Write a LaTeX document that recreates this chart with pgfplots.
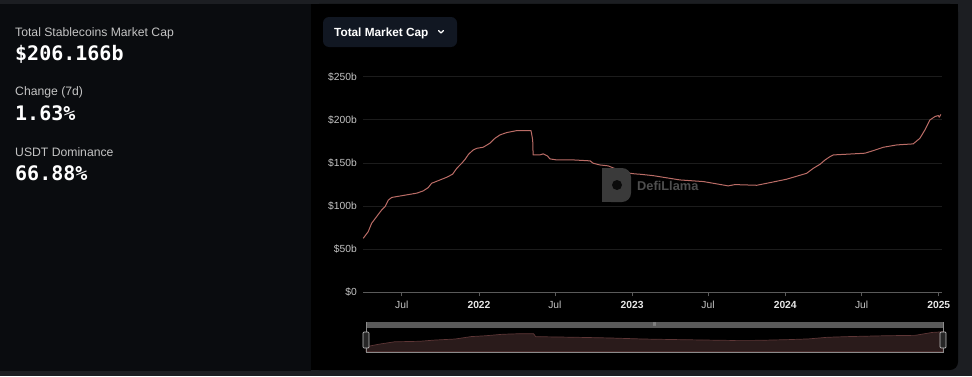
\documentclass[border=0pt]{standalone}
\usepackage{pgfplots}
\pgfplotsset{compat=1.18}
\usepackage{fontspec}
\setmainfont{Liberation Sans}
\newfontfamily\monob{DejaVu Sans Mono}
\definecolor{framegray}{HTML}{1C1E22}
\definecolor{leftbg}{HTML}{0A0C0F}
\definecolor{btnbg}{HTML}{111722}
\definecolor{linecol}{HTML}{BA6C66}
\definecolor{gridcol}{HTML}{1C1C1C}
\definecolor{axiscol}{HTML}{5A5A5A}
\definecolor{labcol}{HTML}{C4C4C4}
\definecolor{yearcol}{HTML}{E6E6E6}
\definecolor{areafill}{HTML}{2A1B1B}
\definecolor{arealine}{HTML}{5E3636}
\definecolor{slidebar}{HTML}{5A5A5A}
\definecolor{wmark}{HTML}{3A3A3A}
\definecolor{wtext}{HTML}{4E4E4E}
\begin{document}
\begin{tikzpicture}[x=1pt,y=1pt]
% backgrounds
\fill[framegray] (0,0) rectangle (972,376);
\fill[leftbg] (0,5) rectangle (311,372);
\fill[black, rounded corners=8pt] (311,6) rectangle (958,372);
\fill[black] (311,6) rectangle (330,372);
\fill[black] (311,350) rectangle (958,372);
% left panel texts
\node[anchor=base west, inner sep=0, text=labcol, font=\fontsize{12.2}{14}\selectfont] at (15,340) {Total Stablecoins Market Cap};
\node[anchor=base west, inner sep=0, text=white, font=\monob\bfseries\fontsize{20}{24}\selectfont] at (15,315.5) {\$206.166b};
\node[anchor=base west, inner sep=0, text=labcol, font=\fontsize{12.2}{14}\selectfont] at (15,280.5) {Change (7d)};
\node[anchor=base west, inner sep=0, text=white, font=\monob\bfseries\fontsize{20}{24}\selectfont] at (15,256) {1.63\%};
\node[anchor=base west, inner sep=0, text=labcol, font=\fontsize{12.2}{14}\selectfont] at (15,220) {USDT Dominance};
\node[anchor=base west, inner sep=0, text=white, font=\monob\bfseries\fontsize{20}{24}\selectfont] at (15,196) {66.88\%};
% button
\fill[btnbg, rounded corners=6pt] (323,329) rectangle (457,359);
\node[anchor=base west, inner sep=0, text=white, font=\bfseries\fontsize{11.8}{14}\selectfont] at (334,340) {Total Market Cap};
\draw[white, line width=1.1pt, line cap=round, line join=round] (438.5,345.5) -- (441,343) -- (443.5,345.5);
% main axis
\begin{axis}[at={(363.3pt,83.7pt)}, anchor=south west, scale only axis,
  width=578.4pt, height=215.6pt,
  xmin=89.2, xmax=1468, ymin=0, ymax=250,
  axis line style={draw=none},
  ymajorgrids, grid style={draw=gridcol, line width=0.7pt},
  ytick={0,50,100,150,200,250},
  yticklabels={\$0,\$50b,\$100b,\$150b,\$200b,\$250b},
  xtick={181,365,546,730,911,1095,1277,1461},
  xticklabels={Jul,\textbf{\color{yearcol}2022},Jul,\textbf{\color{yearcol}2023},Jul,\textbf{\color{yearcol}2024},Jul,\textbf{\color{yearcol}2025}},
  xtick pos=bottom, tick align=outside, major tick length=4pt,
  xtick style={draw=axiscol, line width=0.7pt}, ytick style={draw=none},
  tick label style={font=\fontsize{10.3}{12}\selectfont, text=labcol},
  yticklabel style={xshift=1pt},
  xticklabel style={yshift=-1pt},
  clip=false,
]
\draw[axiscol, line width=0.7pt] (axis cs:89.2,0) -- (axis cs:1468,0);
\addplot[color=linecol, line width=1pt, line join=round] coordinates {
(89,62.6) (101,70.4) (109,80) (121,87.8) (133,95.5) (141,99.4) (149,107) (157,110)
(169,111) (193,113) (217,115) (232,117.6) (244,121.4) (252,126.4) (268,129.5)
(288,133.4) (302,136.9) (312,143.8) (324,149.7) (332,154.3) (340,160) (351,165)
(360,167) (375,168.2) (391,172.9) (403,178.6) (415,182.5) (431,185.2) (455,187.5)
(479,187.5) (489,187.5) (493,176.7) (494,159.3) (510,159.3) (518,160.5) (528,158.2)
(534,154.7) (550,153.5) (590,153.5) (630,152.4) (637,149.7) (653,147.7) (673,146.6)
(693,142.7) (701,141.9) (717,140) (725,138) (737,137.3) (749,136.9) (780,135.3)
(804,133.4) (844,130.3) (900,128.4) (932,125.7) (959,123.4) (975,124.9) (1027,124.1)
(1059,127.2) (1098,131.1) (1114,133.4) (1146,138) (1162,143.8) (1178,148.5)
(1190,153.5) (1202,157.4) (1210,159.3) (1241,160.1) (1285,161.3) (1305,164.3)
(1329,168.2) (1361,170.9) (1400,172.1) (1416,178.6) (1428,188.3) (1440,199.9)
(1452,203.8) (1460,205) (1462,203) (1466,206.2)
};
\end{axis}
% watermark
\fill[wmark, rounded corners=9pt] (602,174) rectangle (631,208);
\fill[wmark] (602,174) rectangle (612,208);
\fill[black!80!wmark] (617,191) circle (5pt);
\node[anchor=west, inner sep=0, text=wtext, font=\bfseries\fontsize{12.8}{15}\selectfont] at (637,190) {DefiLlama};
% slider
\fill[slidebar] (366,48.3) rectangle (943,54.3);
\node[text=white!80!black, font=\fontsize{4}{4}\selectfont, inner sep=0] at (654.5,51.3) {|||};
\begin{axis}[at={(366pt,24.3pt)}, anchor=south west, scale only axis,
  width=577pt, height=20pt, xmin=89, xmax=1466, ymin=15, ymax=207,
  hide axis, clip=false]
\addplot[fill=areafill, draw=arealine, line width=0.7pt] coordinates {
(89,62.6) (121,87.8) (157,110) (217,115) (252,126.4) (302,136.9) (340,160)
(375,168.2) (415,182.5) (455,187.5) (489,187.5) (494,159.3) (590,153.5) (673,146.6)
(749,136.9) (844,130.3) (959,123.4) (1027,124.1) (1098,131.1) (1146,138) (1190,153.5)
(1241,160.1) (1329,168.2) (1400,172.1) (1440,199.9) (1466,206.2)
} \closedcycle;
\end{axis}
\draw[axiscol!70!white, line width=0.6pt] (366,54.3) -- (366,23.7) -- (943,23.7) -- (943,54.3);
\draw[white!75!black, fill=black!85!white, line width=0.7pt, rounded corners=1pt] (363,28) rectangle (369,44);
\draw[white!75!black, fill=black!85!white, line width=0.7pt, rounded corners=1pt] (940,28) rectangle (946,44);
\pgfresetboundingbox
\path[use as bounding box] (0,0) rectangle (972,376);
\end{tikzpicture}
\end{document}
